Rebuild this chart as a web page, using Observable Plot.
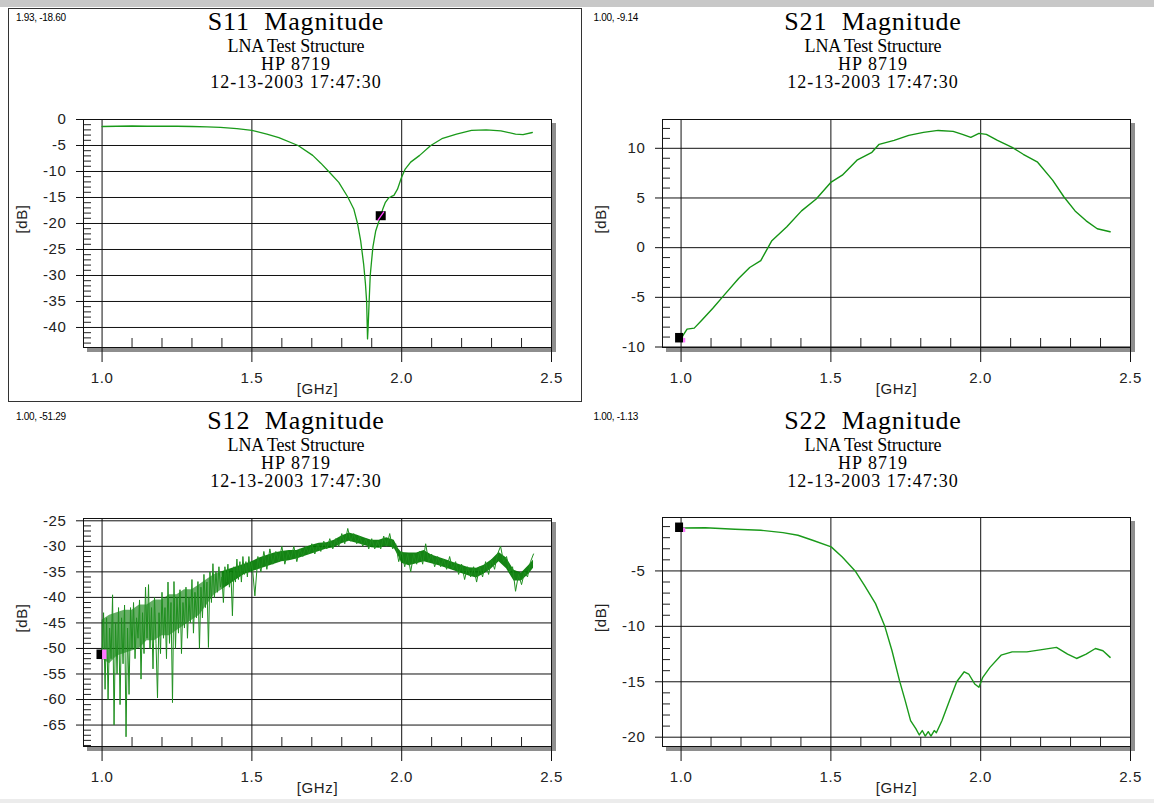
<!DOCTYPE html>
<html>
<head>
<meta charset="utf-8">
<script src="https://cdn.jsdelivr.net/npm/d3@7"></script>
<script src="https://cdn.jsdelivr.net/npm/@observablehq/plot@0.6"></script>
<style>
  html, body { margin: 0; padding: 0; background: #fff; }
  body { width: 1154px; height: 803px; position: relative; overflow: hidden; font-family: "Liberation Sans", Arial, sans-serif; }
  .topband { position: absolute; left: 0; top: 0; width: 1154px; height: 7px; background: #c8c8c8; }
  .botband { position: absolute; left: 0; top: 799px; width: 1154px; height: 4px; background: #ececec; }
  .panel { position: absolute; width: 577px; height: 400px; overflow: hidden; }
  .panel svg { position: absolute; left: 0; top: 0; }
  .panel svg text { letter-spacing: 0.6px; }
  .t { position: absolute; left: 0; width: 592px; text-align: center; font-family: "Liberation Serif", "Times New Roman", serif; line-height: 1; white-space: pre; color: #000; }
  .t1 { font-size: 26px; top: 9px; letter-spacing: 0.8px; }
  .t2 { font-size: 18px; top: 36.5px; letter-spacing: -0.2px; }
  .t3 { font-size: 18px; top: 55px; letter-spacing: 1px; }
  .t4 { font-size: 18px; top: 73px; letter-spacing: 1px; }
  .ro { position: absolute; top: 13px; font-size: 10px; line-height: 1; letter-spacing: -0.3px; color: #000; white-space: pre; }
  .border1 { position: absolute; left: 8px; top: 8px; width: 574px; height: 394px; box-sizing: border-box; border: 1px solid #333; pointer-events: none; }
</style>
</head>
<body>
<div class="topband"></div>
<div class="botband"></div>
<div id="root"></div>
<div class="border1"></div>
<script>
// ---------- data ----------
const titles = ["S11  Magnitude", "S21  Magnitude", "S12  Magnitude", "S22  Magnitude"];
const subtitle1 = "LNA Test Structure";
const subtitle2 = "HP 8719";
const subtitle3 = "12-13-2003 17:47:30";
const xLabel = "[GHz]";
const yLabel = "[dB]";

const xMajor = [1.0, 1.5, 2.0, 2.5];
const xMinor = [1.1, 1.2, 1.3, 1.4, 1.6, 1.7, 1.8, 1.9, 2.1, 2.2, 2.3, 2.4];

const markerF = [1.93, 1.00, 1.00, 1.00];
const markerV = [-18.60, -9.14, -51.29, -1.13];

const s11F = [1.0,1.05,1.1,1.15,1.2,1.25,1.3,1.35,1.395,1.45,1.5,1.55,1.59,1.654,1.703,1.73,1.758,1.79,1.82,1.84,1.853,1.863,1.873,1.879,1.883,1.886,1.888,1.891,1.895,1.899,1.904,1.913,1.922,1.93,1.937,1.945,1.956,1.966,1.974,1.986,1.999,2.011,2.03,2.06,2.097,2.134,2.183,2.233,2.282,2.331,2.38,2.405,2.436];
const s11V = [-1.35,-1.3,-1.25,-1.3,-1.3,-1.3,-1.35,-1.4,-1.5,-1.75,-2.1,-2.8,-3.5,-5.0,-6.9,-8.4,-10.1,-12.1,-14.9,-17.2,-20.1,-23.3,-27.8,-31.6,-35.0,-42.2,-40.0,-35.5,-30.0,-27.5,-24.5,-21.5,-19.9,-18.6,-17.2,-16.0,-15.1,-14.8,-14.6,-13.4,-11.2,-9.6,-8.2,-6.9,-5.0,-3.7,-2.8,-2.1,-2.0,-2.2,-2.8,-2.9,-2.5];

const s21F = [1.0,1.02,1.044,1.069,1.106,1.143,1.192,1.229,1.266,1.303,1.353,1.402,1.451,1.501,1.538,1.587,1.637,1.661,1.711,1.76,1.809,1.858,1.908,1.939,1.967,1.994,2.019,2.056,2.105,2.142,2.19,2.24,2.278,2.315,2.352,2.389,2.432];
const s21V = [-9.14,-8.2,-8.1,-7.3,-6.1,-4.8,-3.1,-2.0,-1.3,0.7,2.1,3.7,4.9,6.6,7.3,8.8,9.6,10.4,10.8,11.3,11.6,11.8,11.7,11.4,11.1,11.5,11.4,10.8,10.1,9.4,8.6,6.8,5.1,3.7,2.7,1.9,1.6];

// S12: spiky trace read point by point
const s12F = [1.000,1.005,1.010,1.015,1.020,1.025,1.030,1.035,1.040,1.045,1.050,1.055,1.060,1.065,1.070,1.075,1.080,1.085,1.090,1.095,
1.100,1.105,1.110,1.115,1.120,1.125,1.130,1.135,1.140,1.145,1.150,1.155,1.160,1.165,1.170,1.175,1.180,1.185,1.190,1.195,
1.200,1.205,1.210,1.215,1.220,1.225,1.230,1.235,1.240,1.245,1.250,1.255,1.260,1.265,1.270,1.275,1.280,1.285,1.290,1.295,
1.300,1.305,1.310,1.315,1.320,1.325,1.330,1.335,1.340,1.345,1.350,1.355,1.360,1.365,1.370,1.375,1.380,1.385,1.390,1.395,
1.400,1.405,1.410,1.415,1.420,1.425,1.430,1.435,1.440,1.445,1.450,1.455,1.460,1.465,1.470,1.475,1.480,1.485,1.490,1.495,
1.50,1.51,1.52,1.53,1.54,1.55,1.56,1.57,1.58,1.59,1.60,1.61,1.62,1.63,1.64,1.65,1.66,1.67,1.68,1.69,
1.70,1.71,1.72,1.73,1.74,1.75,1.76,1.77,1.78,1.79,1.80,1.81,1.82,1.83,1.84,1.85,1.86,1.87,1.88,1.89,
1.90,1.91,1.92,1.93,1.94,1.95,1.96,1.97,1.98,1.99,2.00,2.01,2.02,2.03,2.04,2.05,2.06,2.07,2.08,2.09,
2.10,2.11,2.12,2.13,2.14,2.15,2.16,2.17,2.18,2.19,2.20,2.21,2.22,2.23,2.24,2.25,2.26,2.27,2.28,2.29,
2.30,2.31,2.32,2.33,2.34,2.35,2.36,2.37,2.38,2.39,2.40,2.41,2.42,2.43,2.44];
const s12V = [-51.3,-43,-58,-44,-60,-46,-52,-39.5,-65,-45,-55,-42,-61,-44,-53,-41.5,-67.3,-46,-59,-42,
-50,-41,-52,-44,-48,-40.5,-56,-43,-51,-38,-48,-37.5,-50,-42,-54,-40,-49,-59.7,-43,-51,
-39,-48,-42,-52,-37,-49,-41,-60.6,-36.9,-50,-40,-47,-38.5,-51,-41,-46,-38,-48,-40,-45,
-36.5,-47,-39,-44,-36.9,-50,-38,-44,-35.5,-42,-37,-49.8,-35,-41,-33.4,-40,-35,-39,-34,-38,
-36,-41,-34,-37,-33.5,-38,-35,-43.6,-34,-37,-32.5,-36.5,-33,-37,-32,-35.5,-33,-36,-32,-35,
-33,-39.7,-32,-35,-31,-34.5,-30.5,-33.5,-31,-33,-30,-33.5,-31,-32.5,-30,-33,-30.5,-32,-30,-31.5,
-29.5,-31.5,-29.5,-31,-29,-30.5,-28.5,-30.5,-28.5,-30,-27.5,-29.5,-26.5,-29,-27.5,-29.5,-28,-30,-28.5,-30.5,
-28.5,-30.5,-29,-30.5,-28,-30,-27.5,-30.5,-29.5,-33,-31,-34,-31.5,-35,-31.5,-33.5,-31,-33.5,-29.5,-33,
-31.5,-34,-32,-34,-32.5,-34.5,-32,-34.5,-33,-35.5,-33.5,-36.5,-34,-36,-34,-37,-34,-36,-33,-35.5,
-32.5,-34.5,-31.5,-30,-33,-32,-35,-34,-38.8,-35.5,-37.5,-35,-36,-33,-31.5];

// S12: dense core of the noise band (lower / upper edge)
const s12EnvF = [1.0,1.025,1.05,1.075,1.1,1.125,1.15,1.175,1.2,1.225,1.25,1.275,1.3,1.325,1.35,1.375,1.4,1.425,1.45,1.475,1.5,1.525,1.55,1.575,1.6,1.625,1.65,1.675,1.7,1.725,1.75,1.775,1.8,1.825,1.85,1.875,1.9,1.925,1.95,1.975,1.99,2.0,2.025,2.05,2.075,2.1,2.125,2.15,2.175,2.2,2.225,2.25,2.275,2.3,2.325,2.35,2.375,2.4,2.425,2.44];
const s12Lo = [-52,-53,-51.5,-51,-50.5,-50,-48.5,-48.5,-47.5,-47.5,-46.5,-45.5,-44.5,-43.5,-41.5,-39.5,-38.5,-37.5,-36.5,-35.5,-35,-34.5,-34,-33.5,-33,-32.8,-32.5,-32,-31.5,-31,-30.5,-30.3,-29.5,-29,-29.4,-29.8,-30.3,-30.4,-30,-30.4,-32,-33.3,-33.8,-33.4,-33,-33.4,-33.8,-34.3,-34.8,-35.3,-35.8,-36.2,-35.4,-34.4,-33,-34.4,-36.8,-36.8,-35.4,-34.3];
const s12Hi = [-44.5,-43.5,-43,-42.5,-42.5,-41.5,-41.5,-40.5,-40.5,-39.5,-39.5,-38.5,-38.5,-37.5,-36.5,-35.5,-35,-34.5,-34,-33.5,-33,-32.3,-31.8,-31.3,-31,-30.8,-30.8,-30.3,-29.8,-29.4,-29.3,-28.8,-28,-27.4,-27.8,-28.3,-28.8,-28.8,-28.3,-28.8,-30.5,-31.2,-31.3,-31.3,-30.8,-31.7,-32.2,-32.7,-33.2,-33.7,-34.2,-34.3,-33.7,-32.7,-31.2,-32.3,-34.7,-35.2,-33.7,-32.7];

const s22F = [1.0,1.081,1.18,1.266,1.34,1.39,1.439,1.501,1.538,1.581,1.612,1.649,1.68,1.704,1.729,1.748,1.766,1.784,1.795,1.805,1.815,1.825,1.834,1.845,1.852,1.871,1.896,1.92,1.945,1.96,1.98,1.994,2.007,2.031,2.068,2.105,2.154,2.204,2.253,2.29,2.32,2.352,2.383,2.408,2.432];
const s22V = [-1.13,-1.1,-1.24,-1.33,-1.54,-1.78,-2.23,-2.83,-3.74,-5.0,-6.3,-7.95,-10.0,-12.2,-14.9,-16.7,-18.5,-19.25,-19.8,-19.4,-19.9,-19.5,-19.9,-19.4,-19.6,-18.5,-16.7,-15.0,-14.1,-14.3,-15.2,-15.5,-14.6,-13.7,-12.6,-12.3,-12.3,-12.1,-11.9,-12.5,-12.9,-12.5,-12.0,-12.2,-12.8];

const yMajor11 = [0, -5, -10, -15, -20, -25, -30, -35, -40];
const yMajor21 = [10, 5, 0, -5, -10];
const yMajor12 = [-25, -30, -35, -40, -45, -50, -55, -60, -65];
const yMajor22 = [-5, -10, -15, -20];

// ---------- drawing ----------
const zip = (F, V) => F.map((f, i) => ({f, v: V[i]}));
const minorOf = (lo, hi) => d3.range(lo, hi + 1).filter(d => d % 5 !== 0);
const xDomain = [0.938, 2.5];
const envelope = s12EnvF.map((f, i) => ({f, lo: s12Lo[i], hi: s12Hi[i]}));
const envLow = envelope.filter(d => d.f <= 1.4);
const envHigh = envelope.filter(d => d.f >= 1.4);

const panels = [
  {left: 0,   top: 0,   ml: 83, mr: 26, mt: 119, mb: 53, yDomain: [-43.85, 0],      yMajor: yMajor11, yMinor: minorOf(-43, -1), data: zip(s11F, s11V), stroke: "#1a9a1a", sw: 1.3, dbDx: -61},
  {left: 577, top: 0,   ml: 85, mr: 24, mt: 119, mb: 53, yDomain: [-10.05, 12.9],   yMajor: yMajor21, yMinor: minorOf(-9, 12),  data: zip(s21F, s21V), stroke: "#149414", sw: 1.4, dbDx: -61.5},
  {left: 0,   top: 399, ml: 83, mr: 26, mt: 119, mb: 53, yDomain: [-69.2, -24.55],  yMajor: yMajor12, yMinor: minorOf(-69, -26), data: zip(s12F, s12V), stroke: "#1f8f1f", sw: 1.0, dbDx: -61, band: true},
  {left: 577, top: 399, ml: 85, mr: 24, mt: 118, mb: 53, yDomain: [-20.84, -0.18],  yMajor: yMajor22, yMinor: minorOf(-20, -1), data: zip(s22F, s22V), stroke: "#1a9a1a", sw: 1.4, dbDx: -61.5}
];

const root = document.getElementById("root");
panels.forEach((p, k) => {
  const W = 577, H = 400;
  const fw = W - p.ml - p.mr, fh = H - p.mt - p.mb;
  const m = [{f: markerF[k], v: markerV[k]}];
  const markerMarks = k === 0 ? [
    Plot.ruleX(m, {x: "f", y1: "v", y2: "v", insetTop: -4.5, insetBottom: -4.5, stroke: "black", strokeWidth: 10}),
    Plot.vector(m, {x: "f", y: "v", rotate: 35, length: 10, anchor: "middle", stroke: "#ff44ff", strokeWidth: 1.3,
      shape: {draw(ctx, l) { ctx.moveTo(0, 0); ctx.lineTo(0, -l); }}})
  ] : [
    Plot.ruleX(m, {x: "f", y1: "v", y2: "v", insetTop: -5, insetBottom: -4.5, stroke: "black", strokeWidth: k === 2 ? 5.6 : 8, dx: k === 2 ? -2.8 : -2}),
    Plot.ruleX(m, {x: "f", y1: "v", y2: "v", insetTop: k === 2 ? -5 : 0, insetBottom: -4.5, stroke: "#ff77ff", strokeWidth: k === 2 ? 4.4 : 2.2, dx: k === 2 ? 2.2 : 3.1})
  ];
  const bandMarks = p.band ? [
    Plot.areaY(envLow, {x: "f", y1: "lo", y2: "hi", fill: "#007800", fillOpacity: 0.6}),
    Plot.areaY(envHigh, {x: "f", y1: "lo", y2: "hi", fill: "#007800", fillOpacity: 0.92})
  ] : [];

  const chart = Plot.plot({
    width: W, height: H,
    marginLeft: p.ml, marginRight: p.mr, marginTop: p.mt, marginBottom: p.mb,
    x: {domain: xDomain, axis: null},
    y: {domain: p.yDomain, axis: null},
    style: {background: "none", overflow: "visible", fontFamily: "'Liberation Sans', Arial, sans-serif", fontSize: "15px", color: "#222"},
    marks: [
      Plot.frame({fill: "#8e8e8e", stroke: "#8e8e8e", dx: 4, dy: 4}),
      Plot.frame({fill: "white"}),
      Plot.ruleY(p.yMinor, {stroke: "#222", insetRight: fw - 8}),
      Plot.ruleX(xMinor, {stroke: "#222", insetTop: fh - 9}),
      Plot.ruleY(p.yMajor, {stroke: "#111", insetLeft: -7}),
      Plot.ruleX(xMajor, {stroke: "#111", insetBottom: -15}),
      ...bandMarks,
      Plot.line(p.data, {x: "f", y: "v", stroke: p.stroke, strokeWidth: p.sw}),
      ...markerMarks,
      Plot.frame({stroke: "#111"}),
      Plot.axisY({ticks: p.yMajor, tickSize: 0, tickPadding: 17, tickFormat: d => String(d), fill: "#222", label: null}),
      Plot.axisX({ticks: xMajor, tickSize: 0, tickPadding: 25, tickFormat: d => d.toFixed(1), fill: "#222", label: null}),
      Plot.text([yLabel], {text: d => d, frameAnchor: "left", dx: p.dbDx, rotate: -90, fill: "#222"}),
      Plot.text([xLabel], {text: d => d, frameAnchor: "bottom", dy: 46, fill: "#222"})
    ]
  });

  const div = document.createElement("div");
  div.className = "panel";
  div.style.left = p.left + "px";
  div.style.top = p.top + "px";
  div.appendChild(chart);

  const lines = [[titles[k], "t t1"], [subtitle1, "t t2"], [subtitle2, "t t3"], [subtitle3, "t t4"]];
  lines.forEach(([txt, cls]) => {
    const t = document.createElement("div");
    t.className = cls;
    t.textContent = txt;
    div.appendChild(t);
  });
  const ro = document.createElement("div");
  ro.className = "ro";
  ro.style.left = (k % 2 === 0 ? 16 : 16.5) + "px";
  ro.textContent = markerF[k].toFixed(2) + ", " + markerV[k].toFixed(2);
  div.appendChild(ro);
  root.appendChild(div);
});
</script>
</body>
</html>
